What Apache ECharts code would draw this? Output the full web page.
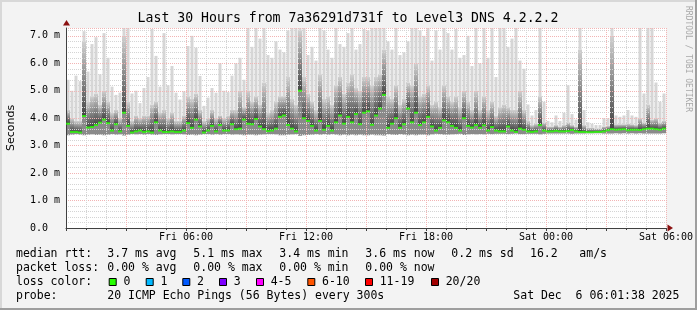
<!DOCTYPE html>
<html><head><meta charset="utf-8">
<script src="https://cdn.jsdelivr.net/npm/echarts@6/dist/echarts.min.js"></script>
<style>html,body{margin:0;padding:0;background:#f3f3f3}#c{width:697px;height:310px}</style>
</head><body><div id="c"></div>
<script>
// 150 slots of 12 minutes each, Fri 00:00 -> Sat 06:00 (values in ms)
const medianRtt = [
3.80,3.50,3.50,3.48,4.08,3.66,3.68,3.75,3.84,3.95,3.82,3.55,3.78,3.52,4.20,3.72,3.48,3.52,3.55,3.50,3.52,3.48,3.85,3.55,3.50,3.50,3.52,3.50,3.50,3.55,3.82,3.65,3.95,3.70,3.48,3.55,3.72,3.52,
3.75,3.55,3.55,3.78,3.60,3.62,3.95,3.80,3.78,3.97,3.70,3.60,3.53,3.55,3.62,4.05,4.10,3.75,3.62,3.52,5.00,4.00,3.90,3.72,3.55,3.90,3.58,3.72,3.55,3.85,4.10,3.80,4.05,3.85,4.15,3.78,4.20,4.25,
3.76,4.10,4.35,4.85,3.65,3.80,4.00,3.65,3.78,4.35,3.85,4.20,3.75,3.85,4.05,3.70,3.55,3.65,3.92,3.85,3.72,3.65,3.55,4.00,3.72,3.66,3.75,3.65,3.74,3.55,3.68,3.55,3.52,3.52,3.70,3.55,3.50,
3.62,3.58,3.52,3.50,3.52,3.75,3.55,3.52,3.52,3.54,3.52,3.52,3.53,3.57,3.52,3.50,3.50,3.49,3.49,3.50,3.50,3.52,3.56,3.60,3.58,3.59,3.60,3.56,3.58,3.58,3.57,3.60,3.62,3.62,3.60,3.58,3.62];
const upperRtt = [
4.3,4.0,3.9,3.9,6.8,4.6,4.8,4.9,4.5,5.0,4.6,4.2,4.3,4.0,7.0,4.6,3.9,4.1,4.0,4.1,4.1,4.5,4.6,4.2,4.3,4.0,4.2,3.9,3.9,4.1,4.8,4.7,4.9,4.3,3.9,4.0,4.3,4.0,
4.1,4.0,4.1,4.3,4.3,5.0,4.4,5.0,4.6,4.8,4.5,5.3,4.2,4.3,4.6,4.8,4.8,5.5,4.7,4.5,7.2,5.5,4.9,4.6,4.3,5.6,4.7,4.8,4.5,5.2,5.5,4.9,5.3,5.6,5.1,5.0,5.5,5.5,
5.2,5.5,5.6,6.5,4.8,4.7,5.2,4.5,4.7,5.3,5.2,6.0,4.8,4.9,5.2,4.5,4.6,4.4,5.2,4.8,4.6,4.8,4.4,5.0,4.6,4.3,5.0,4.3,4.8,4.3,4.6,4.1,4.4,4.5,4.4,4.3,4.3,
5.0,4.3,3.9,3.75,3.8,4.8,3.85,3.7,3.7,3.75,3.7,3.75,3.85,3.75,3.7,6.5,3.75,3.65,3.65,3.63,3.63,3.7,3.72,7.0,3.78,3.78,3.78,3.8,3.78,3.75,4.0,3.85,4.5,3.95,4.0,3.85,3.9];
const maxRtt = [
5.4,5.0,5.55,5.35,7.17,5.7,6.7,6.95,5.6,7.1,6.2,5.15,4.85,4.93,7.29,7.29,4.9,5.0,4.55,5.1,5.5,7.25,6.27,5.15,7.1,5.2,5.9,4.93,4.68,4.98,6.63,7.0,6.57,5.54,4.45,4.75,5.1,4.93,
6.0,5.0,4.95,5.55,6.0,6.2,5.4,7.29,6.6,7.29,6.9,7.29,6.3,6.2,6.8,6.5,6.4,7.2,7.29,7.29,7.29,7.29,6.3,6.6,6.1,7.29,7.2,6.5,6.2,7.29,6.7,6.6,7.1,7.29,6.5,6.7,7.25,7.2,
7.29,7.29,7.29,7.29,6.8,6.5,7.29,6.3,6.4,6.8,7.29,7.29,7.2,7.0,7.29,6.1,7.2,6.5,7.29,7.1,6.5,7.25,6.2,6.3,7.0,5.9,7.29,6.0,7.29,6.2,7.29,5.5,7.29,7.29,6.6,6.9,7.29,
6.1,5.8,4.5,4.1,4.3,7.29,4.6,3.9,3.85,4.1,3.9,4.2,5.2,4.15,3.95,7.29,4.3,3.85,3.8,3.75,3.75,4.0,4.0,7.29,4.1,4.05,4.1,4.3,4.1,4.05,7.29,4.9,7.29,7.29,5.3,4.6,4.9];
const minRtt = [
3.38,3.40,3.42,3.40,3.38,3.40,3.41,3.39,3.40,3.38,3.40,3.42,3.40,3.41,3.37,3.40,3.42,3.41,3.42,3.40,3.42,3.40,3.39,3.41,3.42,3.42,3.41,3.42,3.42,3.41,3.39,3.40,3.38,3.40,3.42,3.42,3.40,3.42,
3.40,3.42,3.42,3.40,3.41,3.40,3.38,3.40,3.40,3.38,3.40,3.41,3.42,3.42,3.41,3.38,3.38,3.40,3.41,3.42,3.36,3.38,3.39,3.40,3.42,3.40,3.42,3.40,3.42,3.40,3.38,3.40,3.38,3.40,3.38,3.40,3.38,3.38,
3.40,3.38,3.38,3.37,3.42,3.40,3.39,3.42,3.40,3.38,3.40,3.38,3.40,3.40,3.38,3.41,3.43,3.42,3.40,3.40,3.41,3.42,3.43,3.39,3.41,3.42,3.41,3.42,3.41,3.43,3.42,3.43,3.43,3.43,3.42,3.43,3.44,
3.42,3.42,3.43,3.43,3.43,3.41,3.43,3.44,3.44,3.44,3.44,3.44,3.44,3.43,3.44,3.44,3.44,3.45,3.45,3.45,3.45,3.44,3.44,3.44,3.45,3.44,3.45,3.44,3.45,3.44,3.45,3.44,3.44,3.44,3.44,3.44,3.45];

const xTickHours = [6, 12, 18, 24, 30];
const xTickLabels = ['Fri 06:00', 'Fri 12:00', 'Fri 18:00', 'Sat 00:00', 'Sat 06:00'];
const yTickLabels = ['0.0  ', '1.0 m', '2.0 m', '3.0 m', '4.0 m', '5.0 m', '6.0 m', '7.0 m'];
const yMax = 7.286;

const titleText = 'Last 30 Hours from 7a36291d731f to Level3 DNS 4.2.2.2';
const rttLine = ['median rtt:', '3.7 ms avg', '5.1 ms max', '3.4 ms min', '3.6 ms now', '0.2 ms sd', '16.2', 'am/s'];
const lossLine = ['packet loss:', '0.00 % avg', '0.00 % max', '0.00 % min', '0.00 % now'];
const lossColorLabels = ['0', '1', '2', '3', '4-5', '6-10', '11-19', '20/20'];
const lossColors = ['#26ff00', '#00b8ff', '#0059ff', '#7e00ff', '#ff00ff', '#ff5500', '#ff0000', '#a10000'];
const probeLine = ['probe:', '20 ICMP Echo Pings (56 Bytes) every 300s', 'Sat Dec  6 06:01:38 2025'];

// layout (pixels)
const rttX = [16, 107.3, 193.3, 279.3, 365.3, 451.3, 530, 579.3];
const lossX = [16, 107.3, 193.3, 279.3, 365.3];
const boxX = [108.7, 145.7, 182.3, 219, 256, 307.3, 365, 431];
const probeX = [16, 107.3, 513.3];
const lineY = [254, 268, 282.5, 296];

const cats = medianRtt.map((_, i) => i);
const lowBand = medianRtt.map((m, i) => Math.max(0, m - minRtt[i]));
const midBand = upperRtt.map((u, i) => Math.max(0, u - medianRtt[i]));
const topBase = upperRtt.map((u, i) => Math.max(u, medianRtt[i]));
const topBand = maxRtt.map((x, i) => Math.max(0, x - topBase[i]));

const MONO = '"DejaVu Sans Mono", monospace';
const LF = '11.5px ' + MONO;
const graphics = [];
function txt(x, y, s, font) {
  graphics.push({ type: 'text', x: x, y: y, silent: true,
    style: { text: s, font: font || LF, fill: '#000', align: 'left', verticalAlign: 'middle' } });
}
// frame
graphics.push({ type: 'rect', shape: { x: 0, y: 0, width: 697, height: 2 }, style: { fill: '#d8d8d8' }, silent: true });
graphics.push({ type: 'rect', shape: { x: 0, y: 0, width: 2, height: 310 }, style: { fill: '#d8d8d8' }, silent: true });
graphics.push({ type: 'rect', shape: { x: 0, y: 308, width: 697, height: 2 }, style: { fill: '#9e9e9e' }, silent: true });
graphics.push({ type: 'rect', shape: { x: 695, y: 0, width: 2, height: 310 }, style: { fill: '#9e9e9e' }, silent: true });
// title
graphics.push({ type: 'text', x: 348, y: 19, silent: true, style: { text: titleText, font: '13.2px ' + MONO, fill: '#000', align: 'center', verticalAlign: 'middle' } });
// watermark
graphics.push({ type: 'text', x: 688, y: 59, rotation: -Math.PI / 2, silent: true, style: { text: 'RRDTOOL / TOBI OETIKER', font: '8px ' + MONO, fill: '#a8a8a8', align: 'center', verticalAlign: 'middle' } });
// axis arrows
graphics.push({ type: 'polygon', shape: { points: [[63, 25.5], [70, 25.5], [66.5, 20]] }, style: { fill: '#8b1010' }, silent: true, z: 10 });
graphics.push({ type: 'polygon', shape: { points: [[667.5, 224.5], [667.5, 231.5], [673, 228]] }, style: { fill: '#8b1010' }, silent: true, z: 10 });
// legend
rttLine.forEach((s, i) => txt(rttX[i], lineY[0], s));
lossLine.forEach((s, i) => txt(lossX[i], lineY[1], s));
txt(16, lineY[2], 'loss color:');
lossColorLabels.forEach((s, i) => {
  graphics.push({ type: 'rect', shape: { x: boxX[i] + 0.5, y: 278.5, width: 7, height: 7 }, style: { fill: lossColors[i], stroke: '#000', lineWidth: 1 }, silent: true });
  txt(boxX[i] + 14.7, lineY[2], s);
});
probeLine.forEach((s, i) => txt(probeX[i], lineY[3], s));

const chart = echarts.init(document.getElementById('c'), null, { renderer: 'canvas' });
const dot = [1, 1];
const MAJ = '#f2b4b4', MIN = '#d4d4d4';
chart.setOption({
  animation: false,
  backgroundColor: '#f3f3f3',
  grid: { left: 66, top: 28, width: 600, height: 200, show: true, backgroundColor: '#ffffff', borderWidth: 0, containLabel: false, outerBoundsMode: 'none' },
  xAxis: [
    { type: 'value', min: 0, max: 30, interval: 3, position: 'bottom', z: 5,
      axisLine: { show: true, lineStyle: { color: '#404040', width: 1 } },
      axisTick: { show: true, length: 3, inside: false, lineStyle: { color: '#404040' } },
      minorTick: { show: true, splitNumber: 3, length: 2, lineStyle: { color: '#404040' } },
      splitLine: { show: true, lineStyle: { color: MAJ, width: 1, type: dot } },
      minorSplitLine: { show: true, lineStyle: { color: MIN, width: 1, type: dot } },
      axisLabel: { show: true, showMinLabel: true, showMaxLabel: true, margin: 4, color: '#000', fontFamily: MONO, fontSize: 10,
        formatter: function (v) { const k = xTickHours.indexOf(v); return k < 0 ? '' : xTickLabels[k]; } } },
    { type: 'category', data: cats, show: false, boundaryGap: true },
    { type: 'category', data: cats, show: false, boundaryGap: true }
  ],
  yAxis: [
    { type: 'value', min: 0, max: yMax, interval: 1, z: 5,
      name: 'Seconds', nameLocation: 'middle', nameGap: 49, nameRotate: 90,
      nameTextStyle: { fontFamily: '"DejaVu Sans", sans-serif', fontSize: 11, color: '#000' },
      axisLine: { show: true, lineStyle: { color: '#404040', width: 1 } },
      axisTick: { show: false },
      splitLine: { show: true, lineStyle: { color: MAJ, width: 1, type: dot } },
      axisLabel: { margin: 6, color: '#000', fontFamily: MONO, fontSize: 10,
        formatter: function (v) { return Number.isInteger(v) && yTickLabels[v] !== undefined ? yTickLabels[v] : ''; } } },
    { type: 'value', min: 0, max: yMax, interval: 0.2, position: 'left', z: 4,
      axisLine: { show: false }, axisTick: { show: false }, axisLabel: { show: false },
      splitLine: { show: true, lineStyle: { color: MIN, width: 1, type: dot } } }
  ],
  series: [
    { type: 'bar', xAxisIndex: 2, yAxisIndex: 0, stack: 'light', data: topBase, barWidth: 3, silent: true, itemStyle: { color: 'rgba(0,0,0,0)' } },
    { type: 'bar', xAxisIndex: 2, yAxisIndex: 0, stack: 'light', data: topBand, barWidth: 3, silent: true, itemStyle: { color: '#d6d6d6' } },
    { type: 'bar', xAxisIndex: 1, yAxisIndex: 0, stack: 'smoke', data: minRtt, barCategoryGap: 0, silent: true, itemStyle: { color: 'rgba(0,0,0,0)' } },
    { type: 'bar', xAxisIndex: 1, yAxisIndex: 0, stack: 'smoke', data: lowBand, barCategoryGap: 0, silent: true, itemStyle: { color: '#8a8a8a' } },
    { type: 'bar', xAxisIndex: 1, yAxisIndex: 0, stack: 'smoke', data: midBand, barCategoryGap: 0, silent: true,
      itemStyle: { color: new echarts.graphic.LinearGradient(0, 0, 0, 1, [{ offset: 0, color: '#d0d0d0' }, { offset: 1, color: '#454545' }]) } },
    { type: 'scatter', xAxisIndex: 1, yAxisIndex: 0, data: medianRtt.map((m, i) => [i, m]), symbol: 'rect', symbolSize: [4, 2], silent: true, z: 6,
      itemStyle: { color: lossColors[0] } }
  ],
  graphic: graphics
});
</script></body></html>
